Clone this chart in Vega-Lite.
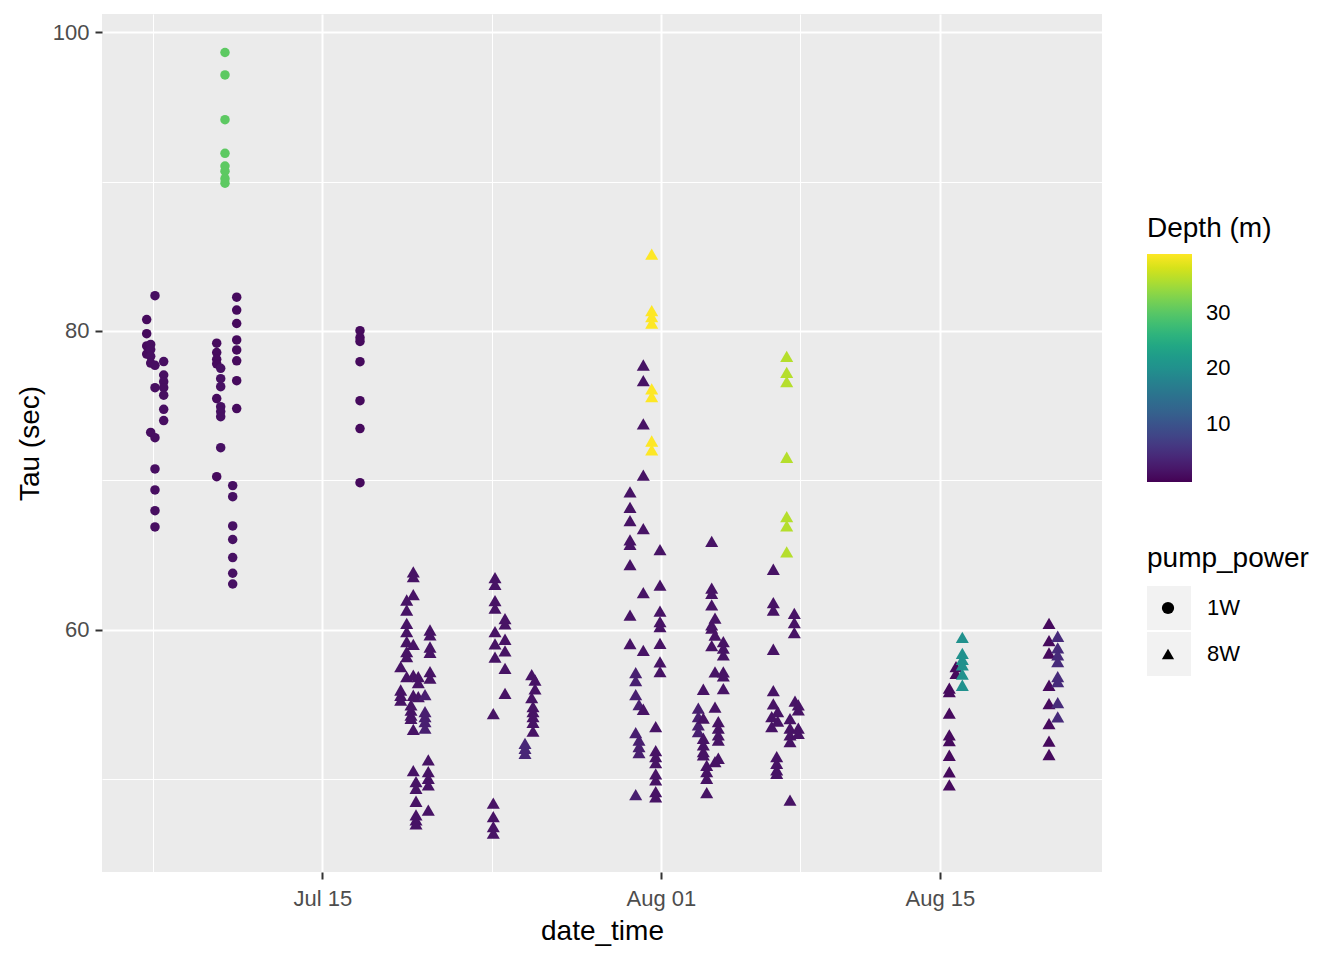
{
  "$schema": "https://vega.github.io/schema/vega-lite/v6.json",
  "width": 1000,
  "height": 858,
  "autosize": {"type": "none"},
  "padding": {"left": 102, "top": 14, "right": 242, "bottom": 88},
  "background": "white",
  "config": {
    "view": {"fill": "#EBEBEB", "stroke": null},
    "font": "Liberation Sans",
    "axis": {
      "domain": false, "grid": true, "gridColor": "#FFFFFF",
      "tickColor": "#333333", "tickWidth": 2, "tickSize": 7,
      "labelFont": "Liberation Sans", "labelFontSize": 22, "labelColor": "#4D4D4D",
      "labelOverlap": false, "labelFlush": false,
      "titleFont": "Liberation Sans", "titleFontSize": 28, "titleFontWeight": "normal", "titleColor": "#000000"
    },
    "legend": {
      "labelFont": "Liberation Sans", "labelFontSize": 22, "labelColor": "#000000",
      "titleFont": "Liberation Sans", "titleFontSize": 28, "titleFontWeight": "normal", "titleColor": "#000000",
      "padding": 0, "labelOverlap": false
    }
  },
  "data": {"values": [
    {"date_time": "2023-07-06T04:26", "tau": 80.76, "depth": 0.5, "pump_power": "1W"},
    {"date_time": "2023-07-06T04:26", "tau": 79.82, "depth": 0.5, "pump_power": "1W"},
    {"date_time": "2023-07-06T04:26", "tau": 79.0, "depth": 0.5, "pump_power": "1W"},
    {"date_time": "2023-07-06T04:26", "tau": 78.45, "depth": 0.5, "pump_power": "1W"},
    {"date_time": "2023-07-06T09:14", "tau": 79.1, "depth": 1, "pump_power": "1W"},
    {"date_time": "2023-07-06T09:14", "tau": 78.75, "depth": 1, "pump_power": "1W"},
    {"date_time": "2023-07-06T09:14", "tau": 78.3, "depth": 1, "pump_power": "1W"},
    {"date_time": "2023-07-06T09:14", "tau": 77.85, "depth": 1, "pump_power": "1W"},
    {"date_time": "2023-07-06T09:14", "tau": 73.2, "depth": 1, "pump_power": "1W"},
    {"date_time": "2023-07-06T14:25", "tau": 82.36, "depth": 1, "pump_power": "1W"},
    {"date_time": "2023-07-06T14:25", "tau": 77.7, "depth": 1, "pump_power": "1W"},
    {"date_time": "2023-07-06T14:25", "tau": 76.2, "depth": 1, "pump_power": "1W"},
    {"date_time": "2023-07-06T14:25", "tau": 72.85, "depth": 1, "pump_power": "1W"},
    {"date_time": "2023-07-06T14:25", "tau": 70.76, "depth": 1, "pump_power": "1W"},
    {"date_time": "2023-07-06T14:25", "tau": 69.35, "depth": 1, "pump_power": "1W"},
    {"date_time": "2023-07-06T14:25", "tau": 67.96, "depth": 1, "pump_power": "1W"},
    {"date_time": "2023-07-06T14:25", "tau": 66.87, "depth": 1, "pump_power": "1W"},
    {"date_time": "2023-07-07T00:55", "tau": 77.95, "depth": 1, "pump_power": "1W"},
    {"date_time": "2023-07-07T00:55", "tau": 77.05, "depth": 1, "pump_power": "1W"},
    {"date_time": "2023-07-07T00:55", "tau": 76.6, "depth": 1, "pump_power": "1W"},
    {"date_time": "2023-07-07T00:55", "tau": 76.2, "depth": 1, "pump_power": "1W"},
    {"date_time": "2023-07-07T00:55", "tau": 75.7, "depth": 1, "pump_power": "1W"},
    {"date_time": "2023-07-07T00:55", "tau": 74.75, "depth": 1, "pump_power": "1W"},
    {"date_time": "2023-07-07T00:55", "tau": 74.0, "depth": 1, "pump_power": "1W"},
    {"date_time": "2023-07-09T16:47", "tau": 79.18, "depth": 0.5, "pump_power": "1W"},
    {"date_time": "2023-07-09T16:47", "tau": 78.55, "depth": 0.5, "pump_power": "1W"},
    {"date_time": "2023-07-09T16:47", "tau": 78.1, "depth": 0.5, "pump_power": "1W"},
    {"date_time": "2023-07-09T16:47", "tau": 77.8, "depth": 0.5, "pump_power": "1W"},
    {"date_time": "2023-07-09T16:47", "tau": 75.47, "depth": 0.5, "pump_power": "1W"},
    {"date_time": "2023-07-09T16:47", "tau": 70.24, "depth": 0.5, "pump_power": "1W"},
    {"date_time": "2023-07-09T21:36", "tau": 77.5, "depth": 1.2, "pump_power": "1W"},
    {"date_time": "2023-07-09T21:36", "tau": 76.8, "depth": 1.2, "pump_power": "1W"},
    {"date_time": "2023-07-09T21:36", "tau": 76.27, "depth": 1.2, "pump_power": "1W"},
    {"date_time": "2023-07-09T21:36", "tau": 74.93, "depth": 1.2, "pump_power": "1W"},
    {"date_time": "2023-07-09T21:36", "tau": 74.6, "depth": 1.2, "pump_power": "1W"},
    {"date_time": "2023-07-09T21:36", "tau": 74.26, "depth": 1.2, "pump_power": "1W"},
    {"date_time": "2023-07-09T21:36", "tau": 72.18, "depth": 1.2, "pump_power": "1W"},
    {"date_time": "2023-07-10T02:46", "tau": 98.65, "depth": 30.3, "pump_power": "1W"},
    {"date_time": "2023-07-10T02:46", "tau": 97.15, "depth": 30.3, "pump_power": "1W"},
    {"date_time": "2023-07-10T02:46", "tau": 94.15, "depth": 30.3, "pump_power": "1W"},
    {"date_time": "2023-07-10T02:46", "tau": 91.9, "depth": 30.3, "pump_power": "1W"},
    {"date_time": "2023-07-10T02:46", "tau": 91.05, "depth": 30.3, "pump_power": "1W"},
    {"date_time": "2023-07-10T02:46", "tau": 90.7, "depth": 30.3, "pump_power": "1W"},
    {"date_time": "2023-07-10T02:46", "tau": 90.2, "depth": 30.3, "pump_power": "1W"},
    {"date_time": "2023-07-10T02:46", "tau": 89.9, "depth": 30.3, "pump_power": "1W"},
    {"date_time": "2023-07-10T12:03", "tau": 69.64, "depth": 1.2, "pump_power": "1W"},
    {"date_time": "2023-07-10T12:03", "tau": 68.9, "depth": 1.2, "pump_power": "1W"},
    {"date_time": "2023-07-10T12:03", "tau": 66.94, "depth": 1.2, "pump_power": "1W"},
    {"date_time": "2023-07-10T12:03", "tau": 66.03, "depth": 1.2, "pump_power": "1W"},
    {"date_time": "2023-07-10T12:03", "tau": 64.82, "depth": 1.2, "pump_power": "1W"},
    {"date_time": "2023-07-10T12:03", "tau": 63.77, "depth": 1.2, "pump_power": "1W"},
    {"date_time": "2023-07-10T12:03", "tau": 63.05, "depth": 1.2, "pump_power": "1W"},
    {"date_time": "2023-07-10T16:52", "tau": 82.26, "depth": 0.5, "pump_power": "1W"},
    {"date_time": "2023-07-10T16:52", "tau": 81.4, "depth": 0.5, "pump_power": "1W"},
    {"date_time": "2023-07-10T16:52", "tau": 80.5, "depth": 0.5, "pump_power": "1W"},
    {"date_time": "2023-07-10T16:52", "tau": 79.4, "depth": 0.5, "pump_power": "1W"},
    {"date_time": "2023-07-10T16:52", "tau": 78.73, "depth": 0.5, "pump_power": "1W"},
    {"date_time": "2023-07-10T16:52", "tau": 78.0, "depth": 0.5, "pump_power": "1W"},
    {"date_time": "2023-07-10T16:52", "tau": 76.67, "depth": 0.5, "pump_power": "1W"},
    {"date_time": "2023-07-10T16:52", "tau": 74.8, "depth": 0.5, "pump_power": "1W"},
    {"date_time": "2023-07-16T21:26", "tau": 80.02, "depth": 0.5, "pump_power": "1W"},
    {"date_time": "2023-07-16T21:26", "tau": 79.55, "depth": 0.5, "pump_power": "1W"},
    {"date_time": "2023-07-16T21:26", "tau": 79.3, "depth": 0.5, "pump_power": "1W"},
    {"date_time": "2023-07-16T21:26", "tau": 77.94, "depth": 0.5, "pump_power": "1W"},
    {"date_time": "2023-07-16T21:26", "tau": 75.33, "depth": 0.5, "pump_power": "1W"},
    {"date_time": "2023-07-16T21:26", "tau": 73.46, "depth": 0.5, "pump_power": "1W"},
    {"date_time": "2023-07-16T21:26", "tau": 69.84, "depth": 0.5, "pump_power": "1W"},
    {"date_time": "2023-07-18T22:28", "tau": 57.52, "depth": 1.5, "pump_power": "8W"},
    {"date_time": "2023-07-18T22:28", "tau": 55.95, "depth": 1.5, "pump_power": "8W"},
    {"date_time": "2023-07-18T22:28", "tau": 55.6, "depth": 1.5, "pump_power": "8W"},
    {"date_time": "2023-07-18T22:28", "tau": 55.27, "depth": 1.5, "pump_power": "8W"},
    {"date_time": "2023-07-19T05:41", "tau": 61.98, "depth": 1.5, "pump_power": "8W"},
    {"date_time": "2023-07-19T05:41", "tau": 61.31, "depth": 1.5, "pump_power": "8W"},
    {"date_time": "2023-07-19T05:41", "tau": 60.42, "depth": 1.5, "pump_power": "8W"},
    {"date_time": "2023-07-19T05:41", "tau": 59.86, "depth": 1.5, "pump_power": "8W"},
    {"date_time": "2023-07-19T05:41", "tau": 59.2, "depth": 1.5, "pump_power": "8W"},
    {"date_time": "2023-07-19T05:41", "tau": 58.52, "depth": 1.5, "pump_power": "8W"},
    {"date_time": "2023-07-19T05:41", "tau": 58.18, "depth": 1.5, "pump_power": "8W"},
    {"date_time": "2023-07-19T05:41", "tau": 56.85, "depth": 1.5, "pump_power": "8W"},
    {"date_time": "2023-07-19T10:52", "tau": 54.95, "depth": 1.5, "pump_power": "8W"},
    {"date_time": "2023-07-19T10:52", "tau": 54.6, "depth": 1.5, "pump_power": "8W"},
    {"date_time": "2023-07-19T10:52", "tau": 54.27, "depth": 1.5, "pump_power": "8W"},
    {"date_time": "2023-07-19T10:52", "tau": 54.05, "depth": 1.5, "pump_power": "8W"},
    {"date_time": "2023-07-19T13:38", "tau": 63.86, "depth": 1.5, "pump_power": "8W"},
    {"date_time": "2023-07-19T13:38", "tau": 63.54, "depth": 1.5, "pump_power": "8W"},
    {"date_time": "2023-07-19T13:38", "tau": 62.34, "depth": 1.5, "pump_power": "8W"},
    {"date_time": "2023-07-19T13:38", "tau": 59.0, "depth": 1.5, "pump_power": "8W"},
    {"date_time": "2023-07-19T13:38", "tau": 56.94, "depth": 1.5, "pump_power": "8W"},
    {"date_time": "2023-07-19T13:38", "tau": 55.6, "depth": 1.5, "pump_power": "8W"},
    {"date_time": "2023-07-19T13:38", "tau": 53.32, "depth": 1.5, "pump_power": "8W"},
    {"date_time": "2023-07-19T13:38", "tau": 50.55, "depth": 1.5, "pump_power": "8W"},
    {"date_time": "2023-07-19T16:54", "tau": 49.81, "depth": 1.5, "pump_power": "8W"},
    {"date_time": "2023-07-19T16:54", "tau": 49.37, "depth": 1.5, "pump_power": "8W"},
    {"date_time": "2023-07-19T16:54", "tau": 48.5, "depth": 1.5, "pump_power": "8W"},
    {"date_time": "2023-07-19T16:54", "tau": 47.58, "depth": 1.5, "pump_power": "8W"},
    {"date_time": "2023-07-19T16:54", "tau": 47.25, "depth": 1.5, "pump_power": "8W"},
    {"date_time": "2023-07-19T16:54", "tau": 46.98, "depth": 1.5, "pump_power": "8W"},
    {"date_time": "2023-07-19T19:39", "tau": 56.85, "depth": 1.5, "pump_power": "8W"},
    {"date_time": "2023-07-19T19:39", "tau": 56.45, "depth": 1.5, "pump_power": "8W"},
    {"date_time": "2023-07-19T19:39", "tau": 55.5, "depth": 1.5, "pump_power": "8W"},
    {"date_time": "2023-07-20T03:44", "tau": 55.64, "depth": 3, "pump_power": "8W"},
    {"date_time": "2023-07-20T03:44", "tau": 54.5, "depth": 3, "pump_power": "8W"},
    {"date_time": "2023-07-20T03:44", "tau": 54.17, "depth": 3, "pump_power": "8W"},
    {"date_time": "2023-07-20T03:44", "tau": 53.83, "depth": 3, "pump_power": "8W"},
    {"date_time": "2023-07-20T03:44", "tau": 53.39, "depth": 3, "pump_power": "8W"},
    {"date_time": "2023-07-20T07:42", "tau": 51.27, "depth": 1.5, "pump_power": "8W"},
    {"date_time": "2023-07-20T07:42", "tau": 50.48, "depth": 1.5, "pump_power": "8W"},
    {"date_time": "2023-07-20T07:42", "tau": 50.04, "depth": 1.5, "pump_power": "8W"},
    {"date_time": "2023-07-20T07:42", "tau": 49.6, "depth": 1.5, "pump_power": "8W"},
    {"date_time": "2023-07-20T07:42", "tau": 47.9, "depth": 1.5, "pump_power": "8W"},
    {"date_time": "2023-07-20T09:46", "tau": 59.97, "depth": 1.5, "pump_power": "8W"},
    {"date_time": "2023-07-20T09:46", "tau": 59.64, "depth": 1.5, "pump_power": "8W"},
    {"date_time": "2023-07-20T09:46", "tau": 58.83, "depth": 1.5, "pump_power": "8W"},
    {"date_time": "2023-07-20T09:46", "tau": 58.48, "depth": 1.5, "pump_power": "8W"},
    {"date_time": "2023-07-20T09:46", "tau": 57.18, "depth": 1.5, "pump_power": "8W"},
    {"date_time": "2023-07-20T09:46", "tau": 56.74, "depth": 1.5, "pump_power": "8W"},
    {"date_time": "2023-07-23T14:01", "tau": 54.37, "depth": 1.5, "pump_power": "8W"},
    {"date_time": "2023-07-23T14:01", "tau": 48.37, "depth": 1.5, "pump_power": "8W"},
    {"date_time": "2023-07-23T14:01", "tau": 47.47, "depth": 1.5, "pump_power": "8W"},
    {"date_time": "2023-07-23T14:01", "tau": 46.8, "depth": 1.5, "pump_power": "8W"},
    {"date_time": "2023-07-23T14:01", "tau": 46.36, "depth": 1.5, "pump_power": "8W"},
    {"date_time": "2023-07-23T16:05", "tau": 63.48, "depth": 1.5, "pump_power": "8W"},
    {"date_time": "2023-07-23T16:05", "tau": 63.03, "depth": 1.5, "pump_power": "8W"},
    {"date_time": "2023-07-23T16:05", "tau": 61.94, "depth": 1.5, "pump_power": "8W"},
    {"date_time": "2023-07-23T16:05", "tau": 61.43, "depth": 1.5, "pump_power": "8W"},
    {"date_time": "2023-07-23T16:05", "tau": 59.86, "depth": 1.5, "pump_power": "8W"},
    {"date_time": "2023-07-23T16:05", "tau": 59.04, "depth": 1.5, "pump_power": "8W"},
    {"date_time": "2023-07-23T16:05", "tau": 58.15, "depth": 1.5, "pump_power": "8W"},
    {"date_time": "2023-07-24T04:08", "tau": 60.73, "depth": 1.5, "pump_power": "8W"},
    {"date_time": "2023-07-24T04:08", "tau": 60.38, "depth": 1.5, "pump_power": "8W"},
    {"date_time": "2023-07-24T04:08", "tau": 59.35, "depth": 1.5, "pump_power": "8W"},
    {"date_time": "2023-07-24T04:08", "tau": 58.57, "depth": 1.5, "pump_power": "8W"},
    {"date_time": "2023-07-24T04:08", "tau": 57.4, "depth": 1.5, "pump_power": "8W"},
    {"date_time": "2023-07-24T04:08", "tau": 55.73, "depth": 1.5, "pump_power": "8W"},
    {"date_time": "2023-07-25T04:13", "tau": 52.38, "depth": 4, "pump_power": "8W"},
    {"date_time": "2023-07-25T04:13", "tau": 52.05, "depth": 4, "pump_power": "8W"},
    {"date_time": "2023-07-25T04:13", "tau": 51.71, "depth": 4, "pump_power": "8W"},
    {"date_time": "2023-07-25T12:17", "tau": 56.98, "depth": 1.5, "pump_power": "8W"},
    {"date_time": "2023-07-25T12:17", "tau": 55.44, "depth": 1.5, "pump_power": "8W"},
    {"date_time": "2023-07-25T13:51", "tau": 54.84, "depth": 1.5, "pump_power": "8W"},
    {"date_time": "2023-07-25T13:51", "tau": 54.5, "depth": 1.5, "pump_power": "8W"},
    {"date_time": "2023-07-25T13:51", "tau": 54.17, "depth": 1.5, "pump_power": "8W"},
    {"date_time": "2023-07-25T13:51", "tau": 53.79, "depth": 1.5, "pump_power": "8W"},
    {"date_time": "2023-07-25T13:51", "tau": 53.19, "depth": 1.5, "pump_power": "8W"},
    {"date_time": "2023-07-25T16:16", "tau": 56.62, "depth": 1.5, "pump_power": "8W"},
    {"date_time": "2023-07-25T16:16", "tau": 56.02, "depth": 1.5, "pump_power": "8W"},
    {"date_time": "2023-07-30T10:44", "tau": 69.22, "depth": 1.5, "pump_power": "8W"},
    {"date_time": "2023-07-30T10:44", "tau": 68.19, "depth": 1.5, "pump_power": "8W"},
    {"date_time": "2023-07-30T10:44", "tau": 67.3, "depth": 1.5, "pump_power": "8W"},
    {"date_time": "2023-07-30T10:44", "tau": 66.0, "depth": 1.5, "pump_power": "8W"},
    {"date_time": "2023-07-30T10:44", "tau": 65.7, "depth": 1.5, "pump_power": "8W"},
    {"date_time": "2023-07-30T10:44", "tau": 64.35, "depth": 1.5, "pump_power": "8W"},
    {"date_time": "2023-07-30T10:44", "tau": 60.96, "depth": 1.5, "pump_power": "8W"},
    {"date_time": "2023-07-30T10:44", "tau": 59.06, "depth": 1.5, "pump_power": "8W"},
    {"date_time": "2023-07-30T17:35", "tau": 57.11, "depth": 3, "pump_power": "8W"},
    {"date_time": "2023-07-30T17:35", "tau": 56.58, "depth": 3, "pump_power": "8W"},
    {"date_time": "2023-07-30T17:35", "tau": 55.64, "depth": 3, "pump_power": "8W"},
    {"date_time": "2023-07-30T17:35", "tau": 53.1, "depth": 3, "pump_power": "8W"},
    {"date_time": "2023-07-30T17:35", "tau": 48.94, "depth": 3, "pump_power": "8W"},
    {"date_time": "2023-07-30T21:34", "tau": 54.97, "depth": 3, "pump_power": "8W"},
    {"date_time": "2023-07-30T21:34", "tau": 52.6, "depth": 3, "pump_power": "8W"},
    {"date_time": "2023-07-30T21:34", "tau": 52.16, "depth": 3, "pump_power": "8W"},
    {"date_time": "2023-07-30T21:34", "tau": 51.76, "depth": 3, "pump_power": "8W"},
    {"date_time": "2023-07-31T02:45", "tau": 77.72, "depth": 1.5, "pump_power": "8W"},
    {"date_time": "2023-07-31T02:45", "tau": 76.67, "depth": 1.5, "pump_power": "8W"},
    {"date_time": "2023-07-31T02:45", "tau": 73.77, "depth": 1.5, "pump_power": "8W"},
    {"date_time": "2023-07-31T02:45", "tau": 70.34, "depth": 1.5, "pump_power": "8W"},
    {"date_time": "2023-07-31T02:45", "tau": 66.76, "depth": 1.5, "pump_power": "8W"},
    {"date_time": "2023-07-31T02:45", "tau": 62.47, "depth": 1.5, "pump_power": "8W"},
    {"date_time": "2023-07-31T02:45", "tau": 58.6, "depth": 1.5, "pump_power": "8W"},
    {"date_time": "2023-07-31T02:45", "tau": 54.66, "depth": 1.5, "pump_power": "8W"},
    {"date_time": "2023-07-31T12:52", "tau": 85.14, "depth": 40.5, "pump_power": "8W"},
    {"date_time": "2023-07-31T12:52", "tau": 81.36, "depth": 40.5, "pump_power": "8W"},
    {"date_time": "2023-07-31T12:52", "tau": 80.96, "depth": 40.5, "pump_power": "8W"},
    {"date_time": "2023-07-31T12:52", "tau": 80.52, "depth": 40.5, "pump_power": "8W"},
    {"date_time": "2023-07-31T12:52", "tau": 76.12, "depth": 40.5, "pump_power": "8W"},
    {"date_time": "2023-07-31T12:52", "tau": 75.6, "depth": 40.5, "pump_power": "8W"},
    {"date_time": "2023-07-31T12:52", "tau": 72.63, "depth": 40.5, "pump_power": "8W"},
    {"date_time": "2023-07-31T12:52", "tau": 72.03, "depth": 40.5, "pump_power": "8W"},
    {"date_time": "2023-07-31T17:41", "tau": 53.5, "depth": 1.5, "pump_power": "8W"},
    {"date_time": "2023-07-31T17:41", "tau": 51.89, "depth": 1.5, "pump_power": "8W"},
    {"date_time": "2023-07-31T17:41", "tau": 51.49, "depth": 1.5, "pump_power": "8W"},
    {"date_time": "2023-07-31T17:41", "tau": 51.08, "depth": 1.5, "pump_power": "8W"},
    {"date_time": "2023-07-31T17:41", "tau": 50.33, "depth": 1.5, "pump_power": "8W"},
    {"date_time": "2023-07-31T17:41", "tau": 49.93, "depth": 1.5, "pump_power": "8W"},
    {"date_time": "2023-07-31T17:41", "tau": 49.14, "depth": 1.5, "pump_power": "8W"},
    {"date_time": "2023-07-31T17:41", "tau": 48.8, "depth": 1.5, "pump_power": "8W"},
    {"date_time": "2023-07-31T22:52", "tau": 65.35, "depth": 1.5, "pump_power": "8W"},
    {"date_time": "2023-07-31T22:52", "tau": 62.97, "depth": 1.5, "pump_power": "8W"},
    {"date_time": "2023-07-31T22:52", "tau": 61.23, "depth": 1.5, "pump_power": "8W"},
    {"date_time": "2023-07-31T22:52", "tau": 60.53, "depth": 1.5, "pump_power": "8W"},
    {"date_time": "2023-07-31T22:52", "tau": 60.2, "depth": 1.5, "pump_power": "8W"},
    {"date_time": "2023-07-31T22:52", "tau": 59.08, "depth": 1.5, "pump_power": "8W"},
    {"date_time": "2023-07-31T22:52", "tau": 57.83, "depth": 1.5, "pump_power": "8W"},
    {"date_time": "2023-07-31T22:52", "tau": 57.18, "depth": 1.5, "pump_power": "8W"},
    {"date_time": "2023-08-02T21:01", "tau": 54.73, "depth": 3, "pump_power": "8W"},
    {"date_time": "2023-08-02T21:01", "tau": 54.17, "depth": 3, "pump_power": "8W"},
    {"date_time": "2023-08-02T21:01", "tau": 53.61, "depth": 3, "pump_power": "8W"},
    {"date_time": "2023-08-02T21:01", "tau": 53.16, "depth": 3, "pump_power": "8W"},
    {"date_time": "2023-08-03T03:03", "tau": 56.0, "depth": 1.5, "pump_power": "8W"},
    {"date_time": "2023-08-03T03:03", "tau": 54.06, "depth": 1.5, "pump_power": "8W"},
    {"date_time": "2023-08-03T03:03", "tau": 52.72, "depth": 1.5, "pump_power": "8W"},
    {"date_time": "2023-08-03T03:03", "tau": 52.27, "depth": 1.5, "pump_power": "8W"},
    {"date_time": "2023-08-03T03:03", "tau": 51.82, "depth": 1.5, "pump_power": "8W"},
    {"date_time": "2023-08-03T03:03", "tau": 51.6, "depth": 1.5, "pump_power": "8W"},
    {"date_time": "2023-08-03T07:08", "tau": 50.9, "depth": 1.5, "pump_power": "8W"},
    {"date_time": "2023-08-03T07:08", "tau": 50.48, "depth": 1.5, "pump_power": "8W"},
    {"date_time": "2023-08-03T07:08", "tau": 50.04, "depth": 1.5, "pump_power": "8W"},
    {"date_time": "2023-08-03T07:08", "tau": 49.08, "depth": 1.5, "pump_power": "8W"},
    {"date_time": "2023-08-03T13:09", "tau": 65.91, "depth": 1.5, "pump_power": "8W"},
    {"date_time": "2023-08-03T13:09", "tau": 62.77, "depth": 1.5, "pump_power": "8W"},
    {"date_time": "2023-08-03T13:09", "tau": 62.43, "depth": 1.5, "pump_power": "8W"},
    {"date_time": "2023-08-03T13:09", "tau": 61.65, "depth": 1.5, "pump_power": "8W"},
    {"date_time": "2023-08-03T13:09", "tau": 60.31, "depth": 1.5, "pump_power": "8W"},
    {"date_time": "2023-08-03T13:09", "tau": 60.09, "depth": 1.5, "pump_power": "8W"},
    {"date_time": "2023-08-03T13:09", "tau": 58.92, "depth": 1.5, "pump_power": "8W"},
    {"date_time": "2023-08-03T17:08", "tau": 60.76, "depth": 1.5, "pump_power": "8W"},
    {"date_time": "2023-08-03T17:08", "tau": 59.62, "depth": 1.5, "pump_power": "8W"},
    {"date_time": "2023-08-03T17:08", "tau": 57.16, "depth": 1.5, "pump_power": "8W"},
    {"date_time": "2023-08-03T17:08", "tau": 54.8, "depth": 1.5, "pump_power": "8W"},
    {"date_time": "2023-08-03T17:08", "tau": 51.15, "depth": 1.5, "pump_power": "8W"},
    {"date_time": "2023-08-03T21:07", "tau": 53.83, "depth": 1.5, "pump_power": "8W"},
    {"date_time": "2023-08-03T21:07", "tau": 53.39, "depth": 1.5, "pump_power": "8W"},
    {"date_time": "2023-08-03T21:07", "tau": 52.94, "depth": 1.5, "pump_power": "8W"},
    {"date_time": "2023-08-03T21:07", "tau": 52.6, "depth": 1.5, "pump_power": "8W"},
    {"date_time": "2023-08-03T21:07", "tau": 51.38, "depth": 1.5, "pump_power": "8W"},
    {"date_time": "2023-08-04T03:09", "tau": 59.19, "depth": 1.5, "pump_power": "8W"},
    {"date_time": "2023-08-04T03:09", "tau": 58.75, "depth": 1.5, "pump_power": "8W"},
    {"date_time": "2023-08-04T03:09", "tau": 58.3, "depth": 1.5, "pump_power": "8W"},
    {"date_time": "2023-08-04T03:09", "tau": 57.16, "depth": 1.5, "pump_power": "8W"},
    {"date_time": "2023-08-04T03:09", "tau": 56.89, "depth": 1.5, "pump_power": "8W"},
    {"date_time": "2023-08-04T03:09", "tau": 56.04, "depth": 1.5, "pump_power": "8W"},
    {"date_time": "2023-08-06T13:26", "tau": 54.17, "depth": 1.5, "pump_power": "8W"},
    {"date_time": "2023-08-06T13:26", "tau": 53.5, "depth": 1.5, "pump_power": "8W"},
    {"date_time": "2023-08-06T15:23", "tau": 64.04, "depth": 1.5, "pump_power": "8W"},
    {"date_time": "2023-08-06T15:23", "tau": 61.8, "depth": 1.5, "pump_power": "8W"},
    {"date_time": "2023-08-06T15:23", "tau": 61.31, "depth": 1.5, "pump_power": "8W"},
    {"date_time": "2023-08-06T15:23", "tau": 58.68, "depth": 1.5, "pump_power": "8W"},
    {"date_time": "2023-08-06T15:23", "tau": 55.91, "depth": 1.5, "pump_power": "8W"},
    {"date_time": "2023-08-06T15:23", "tau": 55.02, "depth": 1.5, "pump_power": "8W"},
    {"date_time": "2023-08-06T19:28", "tau": 51.49, "depth": 1.5, "pump_power": "8W"},
    {"date_time": "2023-08-06T19:28", "tau": 51.04, "depth": 1.5, "pump_power": "8W"},
    {"date_time": "2023-08-06T19:28", "tau": 50.6, "depth": 1.5, "pump_power": "8W"},
    {"date_time": "2023-08-06T19:28", "tau": 50.37, "depth": 1.5, "pump_power": "8W"},
    {"date_time": "2023-08-06T20:40", "tau": 54.5, "depth": 1.5, "pump_power": "8W"},
    {"date_time": "2023-08-06T20:40", "tau": 53.86, "depth": 1.5, "pump_power": "8W"},
    {"date_time": "2023-08-07T07:31", "tau": 78.3, "depth": 36.0, "pump_power": "8W"},
    {"date_time": "2023-08-07T07:31", "tau": 77.23, "depth": 36.0, "pump_power": "8W"},
    {"date_time": "2023-08-07T07:31", "tau": 76.6, "depth": 36.0, "pump_power": "8W"},
    {"date_time": "2023-08-07T07:31", "tau": 71.54, "depth": 36.0, "pump_power": "8W"},
    {"date_time": "2023-08-07T07:31", "tau": 67.56, "depth": 36.0, "pump_power": "8W"},
    {"date_time": "2023-08-07T07:31", "tau": 66.94, "depth": 36.0, "pump_power": "8W"},
    {"date_time": "2023-08-07T07:31", "tau": 65.2, "depth": 36.0, "pump_power": "8W"},
    {"date_time": "2023-08-07T11:30", "tau": 54.03, "depth": 1.5, "pump_power": "8W"},
    {"date_time": "2023-08-07T11:30", "tau": 53.39, "depth": 1.5, "pump_power": "8W"},
    {"date_time": "2023-08-07T11:30", "tau": 52.94, "depth": 1.5, "pump_power": "8W"},
    {"date_time": "2023-08-07T11:30", "tau": 52.49, "depth": 1.5, "pump_power": "8W"},
    {"date_time": "2023-08-07T11:30", "tau": 48.57, "depth": 1.5, "pump_power": "8W"},
    {"date_time": "2023-08-07T16:41", "tau": 61.09, "depth": 1.5, "pump_power": "8W"},
    {"date_time": "2023-08-07T16:41", "tau": 60.46, "depth": 1.5, "pump_power": "8W"},
    {"date_time": "2023-08-07T16:41", "tau": 59.79, "depth": 1.5, "pump_power": "8W"},
    {"date_time": "2023-08-07T17:31", "tau": 55.2, "depth": 1.5, "pump_power": "8W"},
    {"date_time": "2023-08-07T21:30", "tau": 54.95, "depth": 1.5, "pump_power": "8W"},
    {"date_time": "2023-08-07T21:30", "tau": 54.62, "depth": 1.5, "pump_power": "8W"},
    {"date_time": "2023-08-07T21:30", "tau": 53.39, "depth": 1.5, "pump_power": "8W"},
    {"date_time": "2023-08-07T21:30", "tau": 53.05, "depth": 1.5, "pump_power": "8W"},
    {"date_time": "2023-08-15T11:25", "tau": 56.07, "depth": 0.5, "pump_power": "8W"},
    {"date_time": "2023-08-15T11:25", "tau": 55.84, "depth": 0.5, "pump_power": "8W"},
    {"date_time": "2023-08-15T11:25", "tau": 54.4, "depth": 0.5, "pump_power": "8W"},
    {"date_time": "2023-08-15T11:25", "tau": 52.94, "depth": 0.5, "pump_power": "8W"},
    {"date_time": "2023-08-15T11:25", "tau": 52.56, "depth": 0.5, "pump_power": "8W"},
    {"date_time": "2023-08-15T11:25", "tau": 51.58, "depth": 0.5, "pump_power": "8W"},
    {"date_time": "2023-08-15T11:25", "tau": 50.46, "depth": 0.5, "pump_power": "8W"},
    {"date_time": "2023-08-15T11:25", "tau": 49.6, "depth": 0.5, "pump_power": "8W"},
    {"date_time": "2023-08-15T19:29", "tau": 57.52, "depth": 0.5, "pump_power": "8W"},
    {"date_time": "2023-08-15T19:29", "tau": 57.07, "depth": 0.5, "pump_power": "8W"},
    {"date_time": "2023-08-16T03:06", "tau": 59.47, "depth": 20.0, "pump_power": "8W"},
    {"date_time": "2023-08-16T03:06", "tau": 58.41, "depth": 20.0, "pump_power": "8W"},
    {"date_time": "2023-08-16T03:06", "tau": 58.0, "depth": 20.0, "pump_power": "8W"},
    {"date_time": "2023-08-16T03:06", "tau": 57.63, "depth": 20.0, "pump_power": "8W"},
    {"date_time": "2023-08-16T03:06", "tau": 57.02, "depth": 20.0, "pump_power": "8W"},
    {"date_time": "2023-08-16T03:06", "tau": 56.27, "depth": 20.0, "pump_power": "8W"},
    {"date_time": "2023-08-20T11:33", "tau": 60.41, "depth": 0.5, "pump_power": "8W"},
    {"date_time": "2023-08-20T11:33", "tau": 59.26, "depth": 0.5, "pump_power": "8W"},
    {"date_time": "2023-08-20T11:33", "tau": 58.43, "depth": 0.5, "pump_power": "8W"},
    {"date_time": "2023-08-20T11:33", "tau": 56.27, "depth": 0.5, "pump_power": "8W"},
    {"date_time": "2023-08-20T11:33", "tau": 55.04, "depth": 0.5, "pump_power": "8W"},
    {"date_time": "2023-08-20T11:33", "tau": 53.7, "depth": 0.5, "pump_power": "8W"},
    {"date_time": "2023-08-20T11:33", "tau": 52.52, "depth": 0.5, "pump_power": "8W"},
    {"date_time": "2023-08-20T11:33", "tau": 51.63, "depth": 0.5, "pump_power": "8W"},
    {"date_time": "2023-08-20T22:02", "tau": 59.55, "depth": 4.5, "pump_power": "8W"},
    {"date_time": "2023-08-20T22:02", "tau": 58.77, "depth": 4.5, "pump_power": "8W"},
    {"date_time": "2023-08-20T22:02", "tau": 58.3, "depth": 4.5, "pump_power": "8W"},
    {"date_time": "2023-08-20T22:02", "tau": 57.85, "depth": 4.5, "pump_power": "8W"},
    {"date_time": "2023-08-20T22:02", "tau": 56.85, "depth": 4.5, "pump_power": "8W"},
    {"date_time": "2023-08-20T22:02", "tau": 56.51, "depth": 4.5, "pump_power": "8W"},
    {"date_time": "2023-08-20T22:02", "tau": 55.1, "depth": 4.5, "pump_power": "8W"},
    {"date_time": "2023-08-20T22:02", "tau": 54.15, "depth": 4.5, "pump_power": "8W"}
  ]},
  "encoding": {
    "x": {
      "field": "date_time", "type": "temporal",
      "scale": {"domain": [{"year": 2023, "month": 7, "date": 3, "hours": 22, "minutes": 35}, {"year": 2023, "month": 8, "date": 23, "hours": 3, "minutes": 23}], "nice": false},
      "axis": {
        "title": "date_time",
        "values": [
          {"year": 2023, "month": 7, "date": 6, "hours": 12},
          {"year": 2023, "month": 7, "date": 15},
          {"year": 2023, "month": 7, "date": 23, "hours": 12},
          {"year": 2023, "month": 8, "date": 1},
          {"year": 2023, "month": 8, "date": 8},
          {"year": 2023, "month": 8, "date": 15}
        ],
        "labelExpr": "(hours(datum.value) == 12 || date(datum.value) == 8) ? '' : timeFormat(datum.value, '%b %d')",
        "gridWidth": {"condition": {"test": "hours(datum.value) == 12 || date(datum.value) == 8", "value": 1}, "value": 2},
        "tickOpacity": {"condition": {"test": "hours(datum.value) == 12 || date(datum.value) == 8", "value": 0}, "value": 1},
        "labelPadding": 9,
        "titleBaseline": "alphabetic",
        "titleY": 67
      }
    },
    "y": {
      "field": "tau", "type": "quantitative",
      "scale": {"domain": [43.76, 101.23], "nice": false, "zero": false},
      "axis": {
        "title": "Tau (sec)",
        "values": [50, 60, 70, 80, 90, 100],
        "labelExpr": "datum.value % 20 == 0 ? datum.label : ''",
        "gridWidth": {"condition": {"test": "datum.value % 20 != 0", "value": 1}, "value": 2},
        "tickOpacity": {"condition": {"test": "datum.value % 20 != 0", "value": 0}, "value": 1},
        "labelPadding": 6,
        "titleAngle": 270,
        "titleBaseline": "alphabetic",
        "titleX": -64,
        "titleY": 429
      }
    },
    "color": {
      "field": "depth", "type": "quantitative",
      "scale": {"scheme": "viridis", "domain": [-0.4, 40.5]},
      "legend": {
        "title": "Depth (m)", "orient": "none", "legendX": 1045, "legendY": 201,
        "direction": "vertical", "gradientLength": 228, "gradientThickness": 45,
        "gradientStrokeWidth": 0, "values": [10, 20, 30], "labelOffset": 14, "titlePadding": 11
      }
    },
    "stroke": {
      "field": "pump_power", "type": "nominal",
      "scale": {"domain": ["8W", "1W"], "range": ["#F2F2F2", "#F2F2F3"]},
      "legend": {
        "title": null, "orient": "none", "legendX": 1045, "legendY": 572, "zindex": 0,
        "direction": "vertical", "columns": 1,
        "symbolType": "square", "symbolSize": 1936, "symbolFillColor": "#F2F2F2", "symbolStrokeWidth": 0,
        "labelExpr": "''",
        "rowPadding": 2, "symbolOffset": 0,
        "encode": {"symbols": {"update": {"shape": {"value": "square"}, "size": {"value": 1936}, "fill": {"value": "#F2F2F2"}, "stroke": {"value": "#F2F2F2"}, "strokeWidth": {"value": 0}, "opacity": {"value": 1}}}}
      }
    },
    "shape": {
      "field": "pump_power", "type": "nominal",
      "scale": {"domain": ["1W", "8W"], "range": ["circle", "triangle-up"]},
      "legend": {
        "title": "pump_power", "orient": "none", "legendX": 1045, "legendY": 531, "zindex": 2,
        "direction": "vertical",
        "symbolFillColor": "#000000", "symbolStrokeWidth": 0, "symbolSize": 150,
        "titlePadding": 24, "rowPadding": 24, "labelOffset": 28, "symbolOffset": 10,
        "encode": {"symbols": {"update": {"size": {"signal": "datum.value === '1W' ? 90 : 170"}, "fill": {"value": "#000000"}, "strokeWidth": {"value": 0}, "opacity": {"value": 1}}}}
      }
    }
  },
  "layer": [
    {
      "transform": [{"filter": "datum.pump_power === '1W'"}],
      "mark": {"type": "point", "filled": true, "opacity": 1, "size": 90, "strokeWidth": 0}
    },
    {
      "transform": [{"filter": "datum.pump_power === '8W'"}],
      "mark": {"type": "point", "filled": true, "opacity": 1, "size": 170, "strokeWidth": 0}
    }
  ]
}
